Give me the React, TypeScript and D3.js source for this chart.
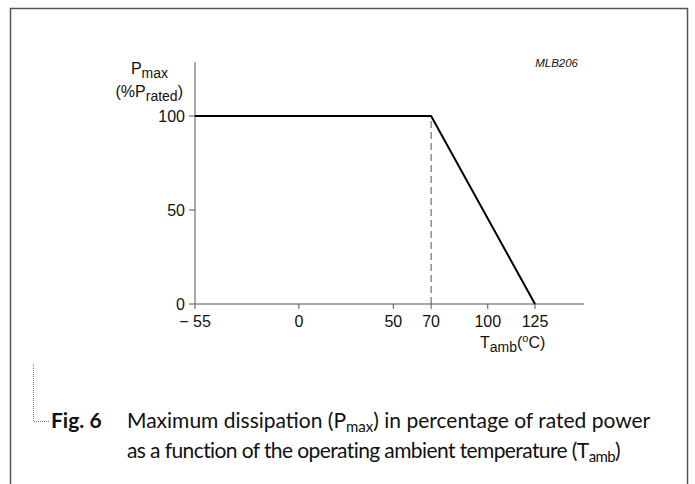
import React from "react";
import * as d3 from "d3";

const xTicks = [-55, 0, 50, 70, 100, 125];
const xTickLabels = ["\u2212 55", "0", "50", "70", "100", "125"];
const yTicks = [0, 50, 100];
const curveT = [-55, 70, 125];
const curveP = [100, 100, 0];
const kneeT = 70;

export default function App() {
  const W = 695, H = 484;
  const x = d3.scaleLinear().domain([-55, 125]).range([195, 535]);
  const y = d3.scaleLinear().domain([0, 100]).range([304, 116]);
  const xMax = 151;
  const yMax = 128.7;
  const pts: [number, number][] = curveT.map((t, i) => [t, curveP[i]]);
  const line = d3.line<[number, number]>().x(d => x(d[0])).y(d => y(d[1]));
  const sans = "'Liberation Sans', Arial, Helvetica, sans-serif";
  const cap = "Lato, 'Open Sans', sans-serif";
  const fs = 16;
  return (
    <svg width={W} height={H} style={{ position: "absolute", left: 0, top: 0, background: "#fff" }}>
      <rect x={0} y={0} width={W} height={H} fill="#fff" />
      {/* frame */}
      <path d={`M10.5,${H + 5} V8.5 H687.5 V${H + 5}`} fill="none" stroke="#555" strokeWidth={1.5} />
      {/* axes */}
      <line x1={x(-55)} x2={x(-55)} y1={y(0)} y2={y(yMax)} stroke="#555" strokeWidth={1} />
      <line x1={x(-55)} x2={x(xMax)} y1={y(0)} y2={y(0)} stroke="#555" strokeWidth={1} />
      {yTicks.map(v => (
        <g key={"y" + v}>
          <line x1={x(-55) - 6} x2={x(-55)} y1={y(v)} y2={y(v)} stroke="#555" strokeWidth={1} />
          <text x={x(-55) - 10} y={y(v) + 6} textAnchor="end" fontFamily={sans} fontSize={fs} fill="#111">{v}</text>
        </g>
      ))}
      {xTicks.map((v, i) => (
        <g key={"x" + v}>
          <line x1={x(v)} x2={x(v)} y1={y(0)} y2={y(0) + 5} stroke="#555" strokeWidth={1} />
          <text x={x(v)} y={y(0) + 23} textAnchor="middle" fontFamily={sans} fontSize={fs} fill="#111">{xTickLabels[i]}</text>
        </g>
      ))}
      {/* dashed knee */}
      <line x1={x(kneeT)} x2={x(kneeT)} y1={y(0)} y2={y(100)} stroke="#555" strokeWidth={1} strokeDasharray="7,4" />
      {/* curve */}
      <path d={line(pts) || ""} fill="none" stroke="#000" strokeWidth={2} />
      {/* y label */}
      <text x={168} y={74} textAnchor="end" fontFamily={sans} fontSize={fs} fill="#111">
        P<tspan dy={4} fontSize={14}>max</tspan>
      </text>
      <text x={183} y={97} textAnchor="end" fontFamily={sans} fontSize={fs} fill="#111">
        (%P<tspan dy={4} fontSize={14}>rated</tspan><tspan dy={-4}>)</tspan>
      </text>
      {/* x label */}
      <text x={480} y={348} fontFamily={sans} fontSize={fs} fill="#111">
        T<tspan dy={4} fontSize={14}>amb</tspan><tspan dy={-4}>(</tspan><tspan dy={-6} fontSize={11}>o</tspan><tspan dy={6}>C)</tspan>
      </text>
      <text x={578} y={67} textAnchor="end" fontFamily={sans} fontSize={11.5} fontStyle="italic" fill="#111">MLB206</text>
      {/* caption bracket */}
      <path d="M33.5,364 V421.5 H50" fill="none" stroke="#777" strokeWidth={1} strokeDasharray="1,1" />
      <text x={51} y={428} fontFamily={cap} fontSize={21} fill="#111">
        <tspan fontWeight="bold">Fig. 6</tspan>
        <tspan x={127}>Maximum dissipation (P</tspan><tspan dy={4} fontSize={15}>max</tspan><tspan dy={-4}>) in percentage of rated power</tspan>
      </text>
      <text x={127} y={458} fontFamily={cap} fontSize={21} fill="#111" letterSpacing={-0.6}>
        as a function of the operating ambient temperature (T<tspan dy={4} fontSize={15}>amb</tspan><tspan dy={-4}>)</tspan>
      </text>
    </svg>
  );
}
